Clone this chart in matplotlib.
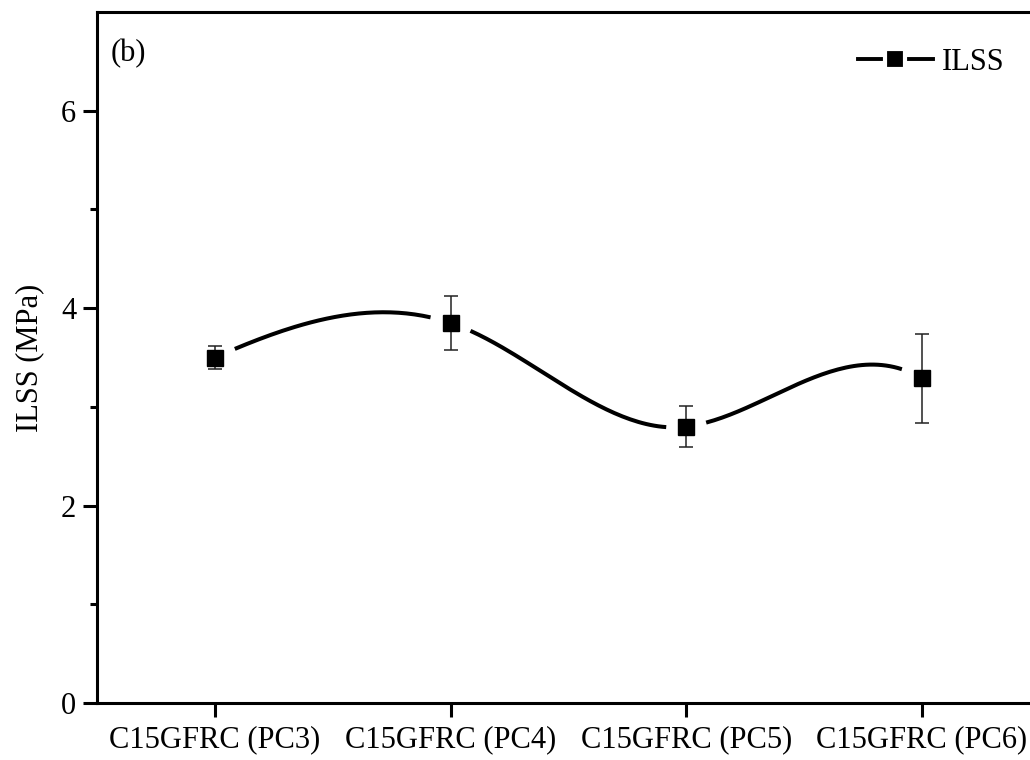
import numpy as np
import matplotlib.pyplot as plt
from matplotlib.lines import Line2D

plt.rcParams['font.family'] = ['Liberation Serif', 'DejaVu Serif']
plt.rcParams['font.size'] = 22

# --
# Data

categories = ['C15GFRC (PC3)', 'C15GFRC (PC4)', 'C15GFRC (PC5)', 'C15GFRC (PC6)']
ilss = [3.50, 3.85, 2.80, 3.29]
ilss_err = [0.12, 0.27, 0.21, 0.45]

# tangents of the connecting spline at each point (curve style, per category step)
curve_slopes = [1.05, -0.80, 0.30, -1.40]


# --
# Smooth connecting curve (cubic Hermite through the points)

def hermite_curve(xs, ys, ms, n=60):
    cx, cy = [], []
    for i in range(len(xs) - 1):
        h = xs[i + 1] - xs[i]
        t = np.linspace(0, 1, n)
        h00 = 2 * t**3 - 3 * t**2 + 1
        h10 = t**3 - 2 * t**2 + t
        h01 = -2 * t**3 + 3 * t**2
        h11 = t**3 - t**2
        cy.append(h00 * ys[i] + h10 * h * ms[i] + h01 * ys[i + 1] + h11 * h * ms[i + 1])
        cx.append(xs[i] + h * t)
    return np.concatenate(cx), np.concatenate(cy)


x = np.arange(len(categories))
cx, cy = hermite_curve(x, ilss, curve_slopes)

'''leave a small gap around each marker, Origin style'''
gap = 0.068
for xi in x:
    cy = np.where(np.abs(cx - xi) < gap, np.nan, cy)


# --
# Plot

fig = plt.figure(figsize=(10.3, 7.6), dpi=100)
ax = fig.add_axes([0.0942, 0.075, 0.9152, 0.9092])

ax.plot(cx, cy, color='black', lw=2.9, solid_capstyle='butt', zorder=2)
ax.errorbar(x, ilss, yerr=ilss_err, fmt='none', ecolor='#222222',
            elinewidth=1.1, capsize=5, capthick=1.1, zorder=3)
ax.plot(x, ilss, ls='none', marker='s', ms=11, color='black', zorder=4)

ax.set_xlim(-0.5, 3.5)
ax.set_ylim(0, 7)
ax.set_xticks(x)
ax.set_xticklabels(categories)
ax.set_yticks([0, 2, 4, 6])
ax.set_yticks([1, 3, 5], minor=True)
ax.set_ylabel('ILSS (MPa)', labelpad=12)

for s in ax.spines.values():
    s.set_linewidth(2.2)
ax.tick_params(which='major', direction='out', length=10, width=2.2, pad=5)
ax.tick_params(which='minor', direction='out', length=5, width=2.2)
ax.tick_params(axis='x', pad=6)

ax.text(0.014, 0.94, '(b)', transform=ax.transAxes, va='center', ha='left')

'''legend handle: line with marker, white edge gives the gap'''
handle = Line2D([], [], color='black', lw=2.8, marker='s', ms=14,
                markerfacecolor='black', markeredgecolor='white', markeredgewidth=3)
ax.legend([handle], ['ILSS'], loc='center left', frameon=False,
          bbox_to_anchor=(858 / 1030, 1 - 62 / 760), bbox_transform=fig.transFigure,
          handlelength=2.45, handletextpad=0.3, borderaxespad=0, borderpad=0)

fig.savefig('out.png', dpi=100)
